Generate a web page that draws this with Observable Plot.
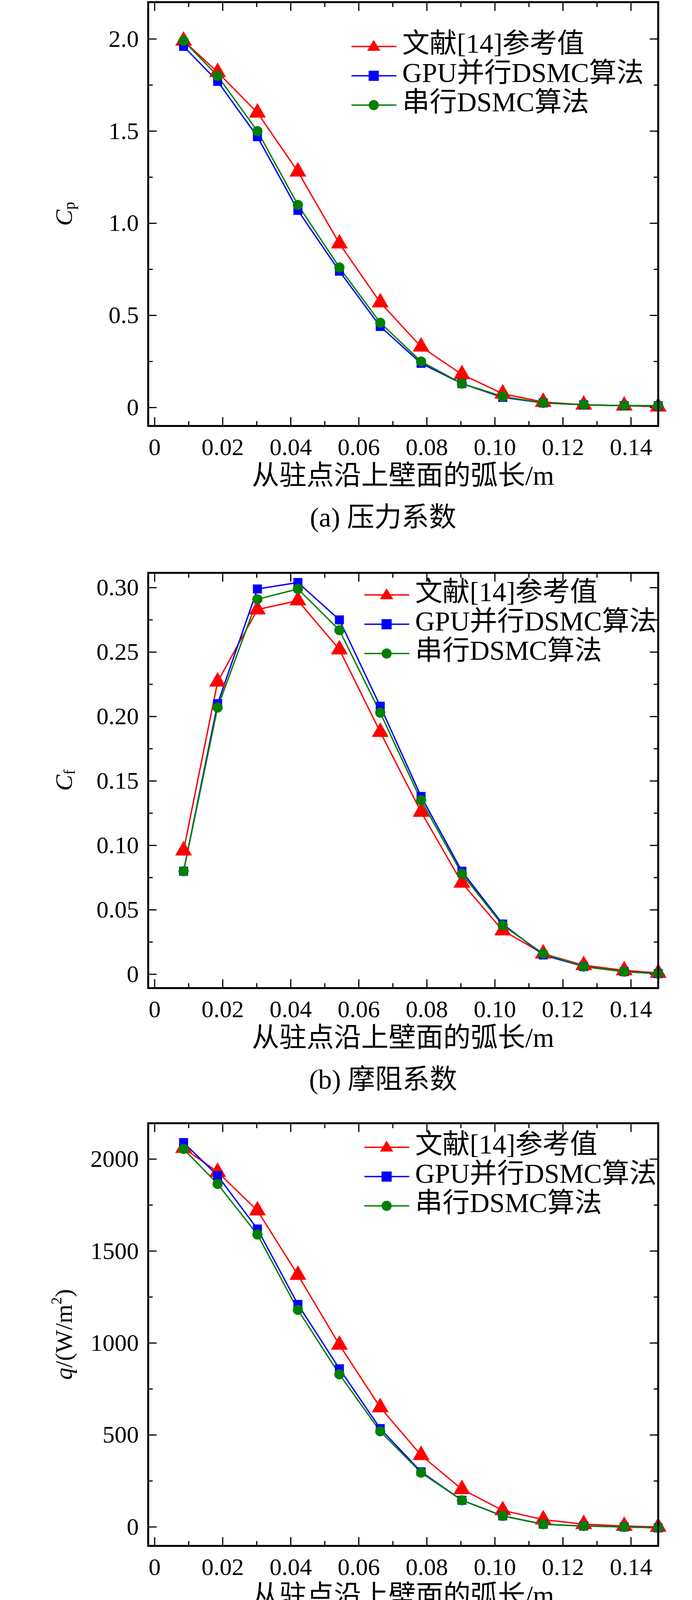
<!DOCTYPE html>
<html><head><meta charset="utf-8">
<script src="https://cdn.jsdelivr.net/npm/d3@7"></script>
<script src="https://cdn.jsdelivr.net/npm/@observablehq/plot@0.6"></script>
<style>
body{margin:0;background:#fff;width:1772px;font-family:"Liberation Serif","Noto Sans CJK SC",serif}
.cap{height:130px;line-height:130px;text-align:center;font-size:70px;padding-left:190px;box-sizing:border-box}
svg{display:block}
</style></head><body><div id="root"></div>
<script>
const xs = [0.0085,0.0185,0.0302,0.0421,0.0543,0.0663,0.0783,0.0903,0.1023,0.1142,0.1261,0.138,0.148];
const seriesNames = ["文献[14]参考值","GPU并行DSMC算法","串行DSMC算法"];
const colors = ["#ff0000","#0000ff","#008000"];
const symbols = ["triangle","square","circle"];
const cpRef = [1.99,1.82,1.60,1.28,0.89,0.57,0.33,0.18,0.075,0.03,0.015,0.01,0.005];
const cpGpu = [1.96,1.77,1.47,1.07,0.74,0.44,0.24,0.13,0.055,0.025,0.015,0.01,0.01];
const cpSer = [1.99,1.80,1.50,1.10,0.76,0.46,0.25,0.13,0.06,0.025,0.015,0.01,0.01];
const cfRef = [0.096,0.227,0.283,0.290,0.252,0.188,0.126,0.071,0.034,0.016,0.007,0.003,0.001];
const cfGpu = [0.080,0.210,0.299,0.304,0.275,0.208,0.138,0.080,0.039,0.015,0.006,0.002,0.0005];
const cfSer = [0.080,0.207,0.291,0.299,0.267,0.203,0.135,0.078,0.038,0.016,0.006,0.002,0.0005];
const qRef = [2060,1930,1720,1370,990,650,390,205,90,40,15,5,0];
const qGpu = [2090,1910,1620,1210,860,535,300,145,60,15,5,0,-5];
const qSer = [2055,1865,1590,1180,830,520,295,145,60,15,5,0,-5];
const xTicks = [0,0.02,0.04,0.06,0.08,0.10,0.12,0.14];
const xMinor = [0.01,0.03,0.05,0.07,0.09,0.11,0.13];
const xLabel = "从驻点沿上壁面的弧长/m";

const panels = [
 {vals:[cpRef,cpGpu,cpSer], ydom:[-0.1,2.2], yt:[0,0.5,1.0,1.5,2.0], ym:[0.25,0.75,1.25,1.75], fmt:d=>d===0?"0":d.toFixed(1),
  mt:5, h:1085, ylab:["C","p"], leg:114, legX:900, cap:"(a) 压力系数"},
 {vals:[cfRef,cfGpu,cfSer], ydom:[-0.0107,0.3115], yt:[0,0.05,0.10,0.15,0.20,0.25,0.30], ym:[0.025,0.075,0.125,0.175,0.225,0.275], fmt:d=>d===0?"0":d.toFixed(2),
  mt:76, h:1063, ylab:["C","f"], leg:57, legX:933, cap:"(b) 摩阻系数"},
 {vals:[qRef,qGpu,qSer], ydom:[-103,2195], yt:[0,500,1000,1500,2000], ym:[250,750,1250,1750], fmt:d=>String(d),
  mt:46, h:1082, ylab:null, leg:62, legX:933, cap:"(c) 热流通量"}
];
const root = document.getElementById("root");
const ax = (ticks, anchor, size, isX) => (isX ? Plot.axisX : Plot.axisY)(ticks,{anchor,tickSize:size,strokeWidth:3,tickFormat:()=>"",label:null});
for (const p of panels) {
  const data = [];
  p.vals.forEach((arr,k)=>arr.forEach((v,i)=>data.push({x:xs[i],y:v,s:k})));
  const ML=379, MR=87, MB=170;
  const chart = Plot.plot({
    width:1772, height:p.mt+p.h+MB, marginLeft:ML, marginRight:MR, marginTop:p.mt, marginBottom:MB,
    style:{fontFamily:"Liberation Serif", fontSize:"62px", color:"#000", overflow:"visible"},
    x:{domain:[-0.0019,0.148]}, y:{domain:p.ydom},
    marks:[
      ax(xTicks,"bottom",-22,true), ax(xMinor,"bottom",-12,true),
      ax(xTicks,"top",-22,true), ax(xMinor,"top",-12,true),
      Plot.axisX(xTicks,{anchor:"bottom",tickSize:0,tickPadding:30,fontSize:62,tickFormat:d=>d===0?"0":d.toFixed(2),label:null}),
      ax(p.yt,"left",-22,false), ax(p.ym,"left",-12,false),
      ax(p.yt,"right",-22,false), ax(p.ym,"right",-12,false),
      Plot.axisY(p.yt,{anchor:"left",tickSize:0,tickPadding:24,fontSize:62,tickFormat:p.fmt,label:null}),
      ...[0,1,2].map(k=>Plot.line(data.filter(d=>d.s===k),{x:"x",y:"y",stroke:colors[k],strokeWidth:3.5,clip:true})),
      ...[0,1,2].map(k=>Plot.dot(data.filter(d=>d.s===k),{x:"x",y:"y",fill:colors[k],symbol:symbols[k],r:k===0?16:13,clip:false})),
      Plot.frame({stroke:"#000",strokeWidth:5})
    ]
  });
  const svg = d3.select(chart);
  svg.append("text").attr("x",ML+(1772-ML-MR)/2).attr("y",p.mt+p.h+135).attr("text-anchor","middle")
    .attr("dominant-baseline","middle").attr("font-size",70).attr("font-family","Liberation Serif, Noto Sans CJK SC").text(xLabel);
  const yl = svg.append("text").attr("transform",`translate(170,${p.mt+p.h/2}) rotate(-90)`).attr("text-anchor","middle")
    .attr("dominant-baseline","middle").attr("font-size",62).attr("font-family","Liberation Serif");
  if (p.ylab) {
    yl.append("tspan").attr("font-style","italic").text(p.ylab[0]);
    yl.append("tspan").attr("font-size",40).attr("dy",12).text(p.ylab[1]);
  } else {
    yl.append("tspan").attr("font-style","italic").text("q");
    yl.append("tspan").text("/(W/m");
    yl.append("tspan").attr("font-size",38).attr("dy",-22).text("2");
    yl.append("tspan").attr("dy",22).text(")");
  }
  seriesNames.forEach((name,k)=>{
    const y = p.mt+p.leg+k*75;
    const g = svg.append("g");
    g.append("line").attr("x1",p.legX).attr("x2",p.legX+115).attr("y1",y).attr("y2",y).attr("stroke",colors[k]).attr("stroke-width",3.5);
    const cx=p.legX+57;
    if(k===0) g.append("path").attr("d",`M${cx},${y-17}L${cx+17},${y+11}L${cx-17},${y+11}Z`).attr("fill",colors[k]);
    else if(k===1) g.append("rect").attr("x",cx-13).attr("y",y-13).attr("width",26).attr("height",26).attr("fill",colors[k]);
    else g.append("circle").attr("cx",cx).attr("cy",y).attr("r",13).attr("fill",colors[k]);
    g.append("text").attr("x",p.legX+130).attr("y",y).attr("text-anchor","start").attr("dominant-baseline","middle").attr("font-size",70)
      .attr("font-family","Liberation Serif, Noto Sans CJK SC").text(name);
  });
  root.appendChild(chart);
  const cap = document.createElement("div"); cap.className="cap"; cap.textContent=p.cap;
  if (p === panels[2]) { cap.style.height="90px"; cap.style.lineHeight="110px"; }
  root.appendChild(cap);
}
</script></body></html>
